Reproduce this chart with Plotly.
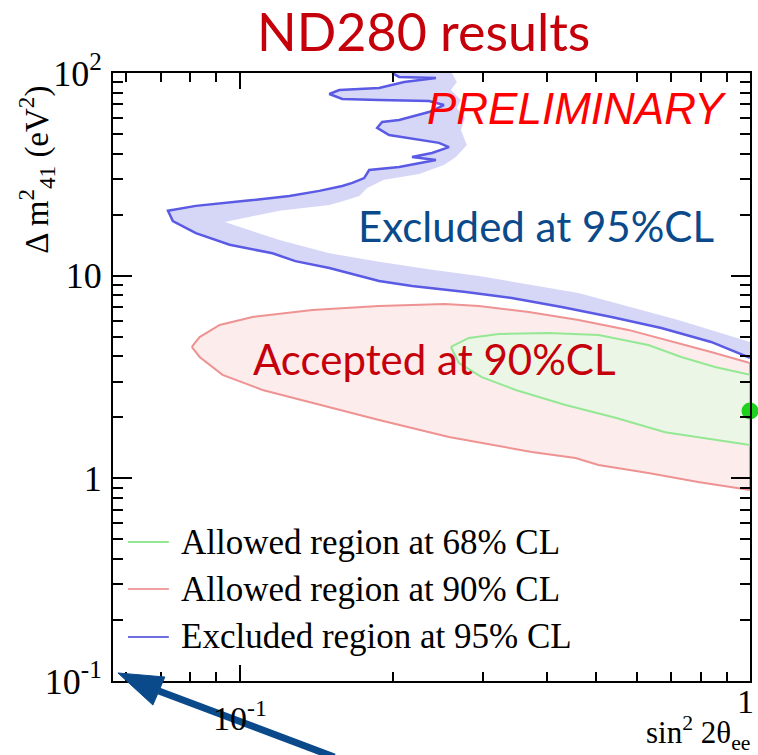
import numpy as np
import plotly.graph_objects as go

# ---------------- data ----------------
# Excluded region at 95% CL : contour line (sin^2 2theta_ee, dm2_41 [eV^2])
excl_x = [0.1990, 0.2054, 0.2425, 0.2101, 0.1876, 0.1568, 0.1499, 0.1589, 0.1876, 0.2350,
          0.2514, 0.2350, 0.2054, 0.1902, 0.1860, 0.1963, 0.2458, 0.2571, 0.2382, 0.2177,
          0.2425, 0.2054, 0.1794, 0.1754, 0.1663, 0.1589, 0.1433, 0.1252, 0.1027, 0.0821,
          0.0724, 0.0740, 0.0821, 0.0956, 0.1160, 0.1286, 0.1499, 0.1876, 0.2177, 0.2382,
          0.2775, 0.3414, 0.4275, 0.5353, 0.6702, 0.8390, 1.0]
excl_y = [100.0, 95.6, 94.5, 90.3, 84.3, 82.4, 78.8, 74.4, 73.6, 72.7,
          69.5, 64.2, 58.6, 57.3, 53.6, 49.4, 45.2, 43.1, 40.3, 38.5,
          37.2, 34.4, 33.2, 30.3, 28.7, 27.7, 26.2, 24.7, 23.4, 22.1,
          20.9, 18.6, 16.2, 14.2, 12.9, 11.8, 10.9, 9.42, 8.90, 8.70,
          8.31, 7.76, 7.01, 6.25, 5.52, 4.71, 3.93]
# outer edge of the shaded band on the excluded side
band_x = [0.2606, 0.2665, 0.2594, 0.2714, 0.2665, 0.2763, 0.2714, 0.2788, 0.2653, 0.2514,
          0.2247, 0.1919, 0.1778, 0.1716, 0.1604, 0.1499, 0.1197, 0.0935, 0.1197, 0.1499,
          0.1876, 0.2382, 0.2943, 0.4614, 0.7234, 1.0]
band_y = [100.0, 90.3, 82.4, 73.6, 67.2, 60.0, 52.3, 44.1, 38.5, 35.2,
          31.7, 29.7, 27.1, 24.7, 23.4, 22.3, 20.9, 18.4, 15.0, 12.9,
          11.7, 10.7, 9.97, 8.22, 6.04, 4.71]

# Allowed region at 90% CL (closed contour)
cl90_x = [0.0806, 0.0835, 0.0914, 0.1060, 0.1389, 0.1876, 0.2525, 0.2943, 0.3685, 0.4614,
          0.5777, 0.7234, 0.8390, 1.0, 1.0, 0.7914, 0.6321, 0.5049, 0.4552, 0.3735,
          0.3120, 0.2571, 0.1876, 0.1389, 0.1109, 0.0926, 0.0835, 0.0806]
cl90_y = [4.45, 4.98, 5.71, 6.25, 6.77, 7.09, 7.25, 7.09, 6.62, 6.04,
          5.40, 4.66, 4.20, 3.71, 0.877, 0.960, 1.063, 1.164, 1.26, 1.35,
          1.46, 1.60, 1.94, 2.36, 2.73, 3.24, 3.97, 4.45]

# Allowed region at 68% CL (closed contour)
cl68_x = [0.2594, 0.2813, 0.3220, 0.4033, 0.5049, 0.6321, 0.7332, 0.8542, 1.0, 1.0,
          0.8542, 0.6823, 0.5450, 0.4352, 0.3475, 0.2982, 0.2689, 0.2594]
cl68_y = [4.45, 4.93, 5.16, 5.22, 5.10, 4.55, 3.97, 3.54, 3.24, 1.46,
          1.55, 1.69, 1.99, 2.30, 2.73, 3.16, 3.71, 4.45]

# best fit point
best_x = [1.0]
best_y = [2.15]

legend_labels = ["Allowed region at 68% CL", "Allowed region at 90% CL", "Excluded region at 95% CL"]
legend_colors = ["#94E894", "#F0A0A0", "#6E6EE2"]

x_major = [0.1, 1.0]
x_major_text = ["10<sup>-1</sup>", "1"]
x_minor = [0.06, 0.07, 0.08, 0.09, 0.2, 0.3, 0.4, 0.5, 0.6, 0.7, 0.8, 0.9]
y_major = [0.1, 1, 10, 100]
y_major_text = ["10<sup>-1</sup>", "1", "10", "10<sup>2</sup>"]
y_minor = [m * d for d in (0.1, 1, 10) for m in range(2, 10)]

SERIF = "Liberation Serif"

fig = go.Figure()

# 90% CL region
fig.add_trace(go.Scatter(x=cl90_x, y=cl90_y, mode="lines", fill="toself",
                         fillcolor="rgba(248,196,196,0.33)",
                         line=dict(color="#EE9292", width=2), hoverinfo="skip",
                         showlegend=False))
# 68% CL region
fig.add_trace(go.Scatter(x=cl68_x, y=cl68_y, mode="lines", fill="toself",
                         fillcolor="rgba(222,255,225,0.55)",
                         line=dict(color="#94E894", width=2), hoverinfo="skip",
                         showlegend=False))
# excluded band
fig.add_trace(go.Scatter(x=excl_x + band_x[::-1], y=excl_y + band_y[::-1], mode="none",
                         fill="toself", fillcolor="rgba(120,120,230,0.30)",
                         hoverinfo="skip", showlegend=False))
fig.add_trace(go.Scatter(x=excl_x, y=excl_y, mode="lines",
                         line=dict(color="#5A5AE4", width=2.5), hoverinfo="skip",
                         showlegend=False))
# best fit
fig.add_trace(go.Scatter(x=best_x, y=best_y, mode="markers", cliponaxis=False,
                         marker=dict(color="#1ED21E", size=17), hoverinfo="skip",
                         showlegend=False))

axis_common = dict(type="log", showline=True, linecolor="black", linewidth=2,
                   mirror="allticks", ticks="inside", tickcolor="black", tickwidth=1.5,
                   showgrid=False, zeroline=False)

fig.update_xaxes(**axis_common, range=[-1.248, 0], tickmode="array", tickvals=x_major,
                 ticktext=x_major_text, showticklabels=False, ticklen=16,
                 minor=dict(tickmode="array", tickvals=x_minor, ticks="inside",
                            ticklen=9, tickcolor="black", tickwidth=1.5))
fig.update_yaxes(**axis_common, range=[-1, 2], tickmode="array", tickvals=y_major,
                 ticktext=y_major_text, ticklen=19, ticklabelstandoff=2,
                 tickfont=dict(family=SERIF, size=36, color="black"),
                 minor=dict(tickmode="array", tickvals=y_minor, ticks="inside",
                            ticklen=10, tickcolor="black", tickwidth=1.5))

def note(x, y, text, font, xref="paper", yref="paper", xanchor="center",
         yanchor="middle", **kw):
    return dict(x=x, y=y, xref=xref, yref=yref, text=text, showarrow=False,
                xanchor=xanchor, yanchor=yanchor, font=font, **kw)

serif_font = dict(family=SERIF, size=34, color="black")
annotations = []
# x tick labels
annotations.append(note(np.log10(x_major[0]), -0.058, x_major_text[0], serif_font, xref="x"))
annotations.append(note(np.log10(x_major[1]), -0.033, x_major_text[1], serif_font,
                        xref="x", xanchor="right", xshift=6))
# axis titles
annotations.append(note(1.003, -0.086, "sin<sup>2</sup> 2θ<sub>ee</sub>",
                        dict(family=SERIF, size=31, color="black"), xanchor="right"))
annotations.append(note(-0.12, 0.84, "Δ m<sup>2</sup><sub>41</sub> (eV<sup>2</sup>)",
                        dict(family=SERIF, size=33, color="black"), textangle=-90))
# region labels
annotations.append(note(0.727, 0.942, "<i>PRELIMINARY</i>",
                        dict(family="Liberation Sans", size=44, color="#FF0000")))
annotations.append(note(0.664, 0.748, "Excluded at 95%CL",
                        dict(family="Lato", size=42, color="#0A4A8A")))
annotations.append(note(0.504, 0.530, "Accepted at 90%CL",
                        dict(family="Lato", size=42, color="#C5000B")))

# legend (text + short coloured lines)
shapes = []
leg_y = [0.2286, 0.1513, 0.0724]
for lab, col, yy in zip(legend_labels, legend_colors, leg_y):
    shapes.append(dict(type="line", xref="paper", yref="paper", x0=0.0235, x1=0.0876,
                       y0=yy, y1=yy, line=dict(color=col, width=2)))
    annotations.append(note(0.1033, yy, lab, dict(family=SERIF, size=35, color="black"),
                            xanchor="left"))

# pointer arrow (decoration)
arrow_col = "#0B4A8A"
shapes.append(dict(type="line", xref="paper", yref="paper", x0=0.3474, y0=-0.125,
                   x1=0.0720, y1=-0.0165, line=dict(color=arrow_col, width=7)))
shapes.append(dict(type="path", xref="paper", yref="paper",
                   path="M 0.0078 0.0132 L 0.0814 0.0066 L 0.0626 -0.0395 Z",
                   fillcolor=arrow_col, line=dict(color=arrow_col, width=1)))

fig.update_layout(
    width=758, height=755,
    margin=dict(l=113, r=6, t=73, b=74),
    paper_bgcolor="white", plot_bgcolor="white",
    title=dict(text="ND280 results", x=0.559, xref="container", xanchor="center",
               y=0.956, yref="container", yanchor="middle",
               font=dict(family="Lato", size=52, color="#C5000B")),
    annotations=annotations, shapes=shapes, showlegend=False,
)

fig.write_html("out.html")
